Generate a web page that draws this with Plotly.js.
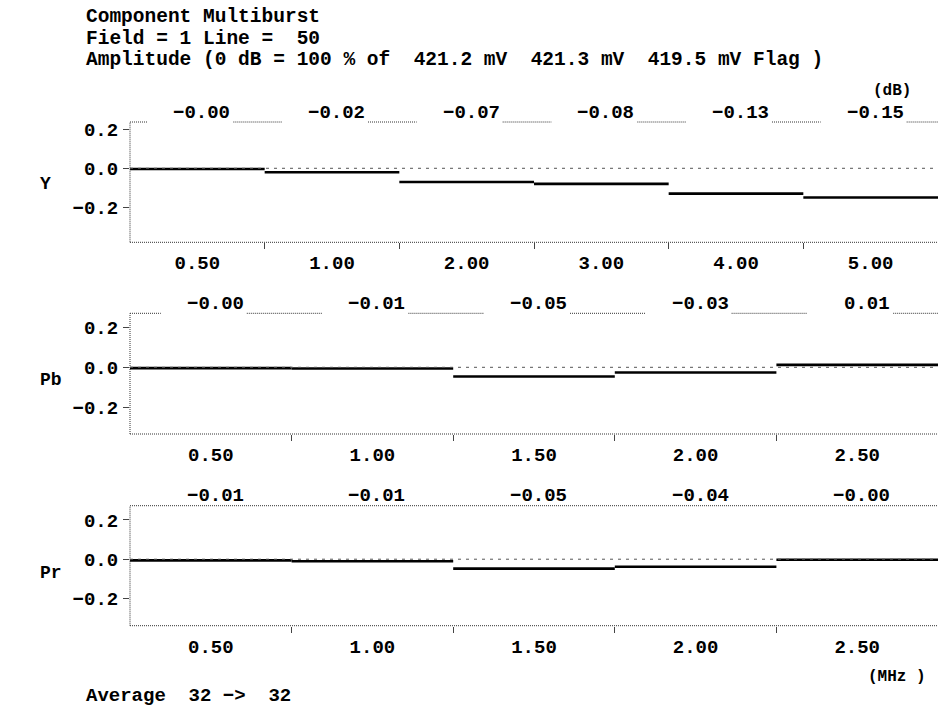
<!DOCTYPE html>
<html>
<head>
<meta charset="utf-8">
<script src="https://cdn.plot.ly/plotly-3.0.1.min.js"></script>
<style>html,body{margin:0;padding:0;background:#fff;}#chart{width:938px;height:708px;}</style>
</head>
<body>
<div id="chart"></div>
<script>
// ---- data ----
const rowNames = ['Y', 'Pb', 'Pr'];
const yTicksY = ['0.50', '1.00', '2.00', '3.00', '4.00', '5.00'];
const yValues = [-0.004, -0.02, -0.07, -0.08, -0.13, -0.15];
const pbTicks = ['0.50', '1.00', '1.50', '2.00', '2.50'];
const pbValues = [-0.004, -0.006, -0.046, -0.026, 0.012];
const prTicks = ['0.50', '1.00', '1.50', '2.00', '2.50'];
const prValues = [-0.006, -0.01, -0.048, -0.038, -0.003];
const yAxisTickVals = [0.2, 0.0, -0.2];
const yAxisTickText = ['0.2', '0.0', '\u22120.2'];
const headerLines = [
  'Component Multiburst',
  'Field = 1 Line =  50',
  'Amplitude (0 dB = 100 % of  421.2 mV  421.3 mV  419.5 mV Flag )'
];
const footer = 'Average  32 ->  32';

// ---- layout helpers ----
const W = 938, H = 708, L = 130, PW = W - L;
const px = x => (x - L) / PW;
const py = y => 1 - y / H;
const nb = s => s.replace(/ /g, '\u00a0');
const FONT = 'Liberation Mono, Courier New, monospace';
const font = (size) => ({family: FONT, size: size, color: '#000', weight: 'bold'});
const fmt = v => v.toFixed(2).replace('-', '\u2212');

const panels = [
  {name: rowNames[0], ticks: yTicksY, vals: yValues, top: 122, bot: 242.3, range: [-0.3795, 0.2374], rowY: 184, topGaps: true, labShift: 9},
  {name: rowNames[1], ticks: pbTicks, vals: pbValues, top: 313.3, bot: 434, range: [-0.3335, 0.27], rowY: 380, topGaps: true, labShift: 9},
  {name: rowNames[2], ticks: prTicks, vals: prValues, top: 505.7, bot: 625.7, range: [-0.338, 0.272], rowY: 573, topGaps: false, labShift: 10}
];

const traces = [];
const shapes = [];
const annotations = [];
const layout = {
  width: W, height: H,
  margin: {l: L, r: 0, t: 0, b: 0, pad: 0},
  paper_bgcolor: '#fff', plot_bgcolor: '#fff',
  showlegend: false,
  font: font(19)
};

const FRAME = {color: '#333', width: 1, dash: '1px,1px'};

panels.forEach((p, k) => {
  const sfx = k === 0 ? '' : String(k + 1);
  const xa = 'x' + sfx, ya = 'y' + sfx;
  const n = p.vals.length;
  const u = PW / n;
  // step segments
  const xs = [], ys = [];
  p.vals.forEach((v, i) => { xs.push(i, i + 1, null); ys.push(v, v, null); });
  traces.push({x: xs, y: ys, xaxis: xa, yaxis: ya, mode: 'lines',
    line: {color: '#000', width: 2.6}, hoverinfo: 'skip', connectgaps: false});

  const centers = p.ticks.map((_, i) => i + 0.5);
  const bounds = [];
  for (let i = 1; i < n; i++) bounds.push(i);

  layout['xaxis' + sfx] = {
    domain: [0, 1], anchor: ya, range: [0, n], fixedrange: true,
    showgrid: false, zeroline: false, showline: false,
    tickmode: 'array', tickvals: centers, ticktext: p.ticks,
    ticks: '', ticklabelstandoff: 7, tickfont: font(19),
    minor: {tickmode: 'array', tickvals: bounds, ticks: 'outside', ticklen: 6, tickcolor: '#444', tickwidth: 1, showgrid: false}
  };
  layout['yaxis' + sfx] = {
    domain: [py(p.bot), py(p.top)], anchor: xa, range: p.range, fixedrange: true,
    showgrid: false, zeroline: false, showline: false,
    tickmode: 'array', tickvals: yAxisTickVals, ticktext: yAxisTickText,
    ticks: 'outside', ticklen: 6, tickcolor: '#444', tickwidth: 1, ticklabelstandoff: 1,
    tickfont: font(19)
  };

  // frame: left and bottom
  shapes.push({type: 'line', xref: xa + ' domain', yref: ya + ' domain', x0: 0, x1: 0, y0: 0, y1: 1, line: FRAME});
  shapes.push({type: 'line', xref: xa + ' domain', yref: ya + ' domain', x0: 0, x1: 1, y0: 0, y1: 0, line: FRAME});
  // top border (broken under the value labels in the first two panels)
  if (p.topGaps) {
    let start = 0;
    centers.forEach(c => {
      const g0 = c - 50 / u, g1 = c + 36 / u;
      shapes.push({type: 'line', xref: xa, yref: ya + ' domain', x0: start, x1: g0, y0: 1, y1: 1, line: FRAME});
      start = g1;
    });
    shapes.push({type: 'line', xref: xa, yref: ya + ' domain', x0: start, x1: n, y0: 1, y1: 1, line: FRAME});
  } else {
    shapes.push({type: 'line', xref: xa + ' domain', yref: ya + ' domain', x0: 0, x1: 1, y0: 1, y1: 1, line: FRAME});
  }
  // dashed zero reference
  shapes.push({type: 'line', xref: xa + ' domain', yref: ya, x0: 0, x1: 1, y0: 0, y1: 0,
    line: {color: '#555', width: 1, dash: '3px,5px'}, layer: 'above'});

  // value labels above each segment
  p.vals.forEach((v, i) => {
    annotations.push({xref: xa, yref: ya + ' domain', x: i + 0.5, y: 1, xanchor: 'right', yanchor: 'middle',
      xshift: 35, yshift: p.labShift, text: fmt(v), showarrow: false, font: font(19)});
  });
  // row name
  annotations.push({xref: 'paper', yref: 'paper', x: px(38), y: py(p.rowY), xanchor: 'left', yanchor: 'middle',
    text: p.name, showarrow: false, font: font(18)});
});

// header
const headerY = [17, 38.5, 60];
headerLines.forEach((t, i) => {
  annotations.push({xref: 'paper', yref: 'paper', x: px(84), y: py(headerY[i]), xanchor: 'left', yanchor: 'middle',
    text: nb(t), showarrow: false, font: font(19.5)});
});
annotations.push({xref: 'paper', yref: 'paper', x: px(892), y: py(91.5), xanchor: 'center', yanchor: 'middle',
  text: '(dB)', showarrow: false, font: font(16)});
annotations.push({xref: 'paper', yref: 'paper', x: px(897), y: py(677), xanchor: 'center', yanchor: 'middle',
  text: nb('(MHz )'), showarrow: false, font: font(16)});
annotations.push({xref: 'paper', yref: 'paper', x: px(84), y: py(696), xanchor: 'left', yanchor: 'middle',
  text: nb(footer).replace('->', '\u2212>'), showarrow: false, font: font(19)});

layout.shapes = shapes;
layout.annotations = annotations;

Plotly.newPlot('chart', traces, layout, {displayModeBar: false, staticPlot: true});
</script>
</body>
</html>
